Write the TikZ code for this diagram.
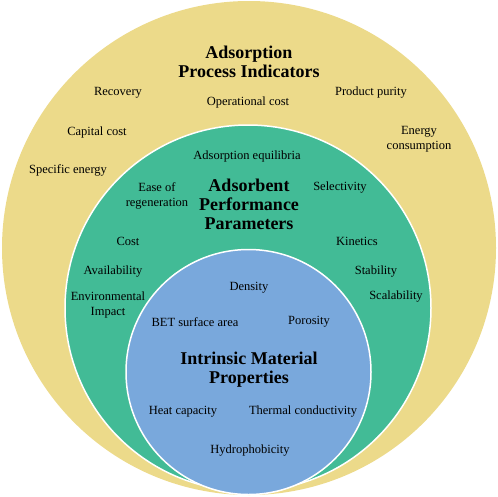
\documentclass[tikz,border=0pt]{standalone}
\usepackage{fontspec}
\setmainfont{Liberation Serif}
\definecolor{procyellow}{RGB}{236,218,138}
\definecolor{perfgreen}{RGB}{66,187,150}
\definecolor{matblue}{RGB}{121,168,220}
\tikzset{
  item/.style={font=\fontsize{12.5}{15}\selectfont, align=center, inner sep=0pt},
  head/.style={font=\fontsize{18}{19}\selectfont\bfseries, align=center, inner sep=0pt}
}
\begin{document}
\begin{tikzpicture}[x=1pt,y=-1pt]
\useasboundingbox (0,0) rectangle (498,496);
% rings
\filldraw[fill=procyellow, draw=none] (249,248) circle (247);
\filldraw[fill=perfgreen, draw=white, line width=1.5pt] (248,308) circle (183);
\filldraw[fill=matblue, draw=white, line width=1.5pt] (248.5,372) circle (122.5);
% process indicators
\node[head] (proc) at (249,62) {Adsorption\\Process Indicators};
\node[item] (recovery) at (118,93) {Recovery};
\node[item] (opcost) at (248,102) {Operational cost};
\node[item] (purity) at (371,93) {Product purity};
\node[item] (capcost) at (97,132) {Capital cost};
\node[item] (energy) at (419,139) {Energy\\consumption};
\node[item] (specen) at (68,170) {Specific energy};
% adsorbent performance
\node[head] (perf) at (249,204) {Adsorbent\\Performance\\Parameters};
\node[item] (equil) at (247,156) {Adsorption equilibria};
\node[item] (regen) at (157,196) {Ease of\\regeneration};
\node[item] (select) at (340,188) {Selectivity};
\node[item] (cost) at (128,241) {Cost};
\node[item] (kinet) at (357,241) {Kinetics};
\node[item] (avail) at (113,272) {Availability};
\node[item] (stab) at (376,272) {Stability};
\node[item] (envir) at (108,305) {Environmental\\Impact};
\node[item] (scal) at (396,297) {Scalability};
% material properties
\node[head] (mat) at (249,370) {Intrinsic Material\\Properties};
\node[item] (dens) at (249,288) {Density};
\node[item] (bet) at (195,322) {BET surface area};
\node[item] (poros) at (309,322) {Porosity};
\node[item] (heat) at (183,412) {Heat capacity};
\node[item] (therm) at (303,412) {Thermal conductivity};
\node[item] (hydro) at (250,451) {Hydrophobicity};
\end{tikzpicture}
\end{document}
